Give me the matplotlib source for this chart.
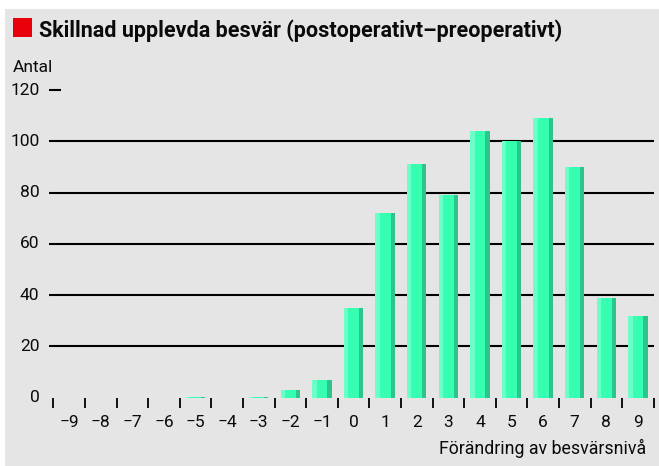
import matplotlib
matplotlib.use('Agg')
import matplotlib.pyplot as plt
from matplotlib.patches import Rectangle
import numpy as np

# data
categories = [-9, -8, -7, -6, -5, -4, -3, -2, -1, 0, 1, 2, 3, 4, 5, 6, 7, 8, 9]
counts = [0, 0, 0, 0, 0.4, 0, 0.4, 3, 7, 35, 72, 91, 79, 104, 100, 109, 90, 39, 32]
y_ticks = [0, 20, 40, 60, 80, 100, 120]
tick_labels = ['\u2212' + str(-c) if c < 0 else str(c) for c in categories]

title = 'Skillnad upplevda besvär (postoperativt\u2013preoperativt)'
y_title = 'Antal'
x_title = 'Förändring av besvärsnivå'

plt.rcParams['font.family'] = ['Roboto', 'DejaVu Sans']

W, H = 659, 466
fig = plt.figure(figsize=(W / 100, H / 100), dpi=100, facecolor='white')

# grey panel + red square
fig.patches.append(Rectangle((5 / W, 0), 1, 1 - 9 / H, transform=fig.transFigure,
                             facecolor='#e5e5e5', edgecolor='none', zorder=-5))
fig.patches.append(Rectangle((13.3 / W, 1 - 36.7 / H), 18.4 / W, 18.4 / H,
                             transform=fig.transFigure, facecolor='#e8000b',
                             edgecolor='none', zorder=-4))
fig.text(39 / W, 1 - 36.7 / H, title, fontsize=15.5, fontweight='bold',
         va='baseline', ha='left', color='#0a0a0a')
fig.text(13 / W, 1 - 71.7 / H, y_title, fontsize=12.5, va='baseline', ha='left',
         color='#0a0a0a')

# axes placement: x=-9 at 69.1px, step 31.6px; y=0 at 397.7px, 2.564 px/unit
x0, dx = 69.1, 31.6
y0, dy = 397.7, 2.564
xlim = (-9.9, 9.65)
ylim = (-5, 125)
left = x0 + (xlim[0] + 9) * dx
right = x0 + (xlim[1] + 9) * dx
bottom = y0 - ylim[0] * dy
top = y0 - ylim[1] * dy
ax = fig.add_axes([left / W, 1 - bottom / H, (right - left) / W, (bottom - top) / H])
ax.set_xlim(xlim)
ax.set_ylim(ylim)
ax.axis('off')

# gridlines
ax.hlines(y_ticks[1:-1], -9.64, 9.5, color='black', lw=1.5, zorder=1)
ax.hlines(y_ticks[-1], -9.64, -9.27, color='black', lw=1.5, zorder=1)
for v in y_ticks:
    ax.text(-9.94, v, str(v), ha='right', va='center', fontsize=12.5, color='#0a0a0a')

# bars: body, light left stripe, dark right stripe
bw = 0.61
x = np.array(categories, dtype=float)
ax.bar(x, counts, width=bw, color='#36ffb2', zorder=2)
ax.bar(x - bw / 2, counts, width=0.14, align='edge', color='#6dffc9', zorder=3)
ax.bar(x + bw / 2 - 0.13, counts, width=0.13, align='edge', color='#2cc58d', zorder=3)

# x ticks between categories
bounds = np.arange(-9.5, 10, 1)
ax.vlines(bounds, -3.9, 0, color='black', lw=1.3, zorder=1)
for c, lab in zip(categories, tick_labels):
    ax.text(c, -11.4, lab, ha='center', va='baseline', fontsize=12.5, color='#0a0a0a')
ax.text(9.25, -22, x_title, ha='right', va='baseline', fontsize=12.8, color='#0a0a0a')

fig.savefig('out.png', dpi=100, facecolor='white')
